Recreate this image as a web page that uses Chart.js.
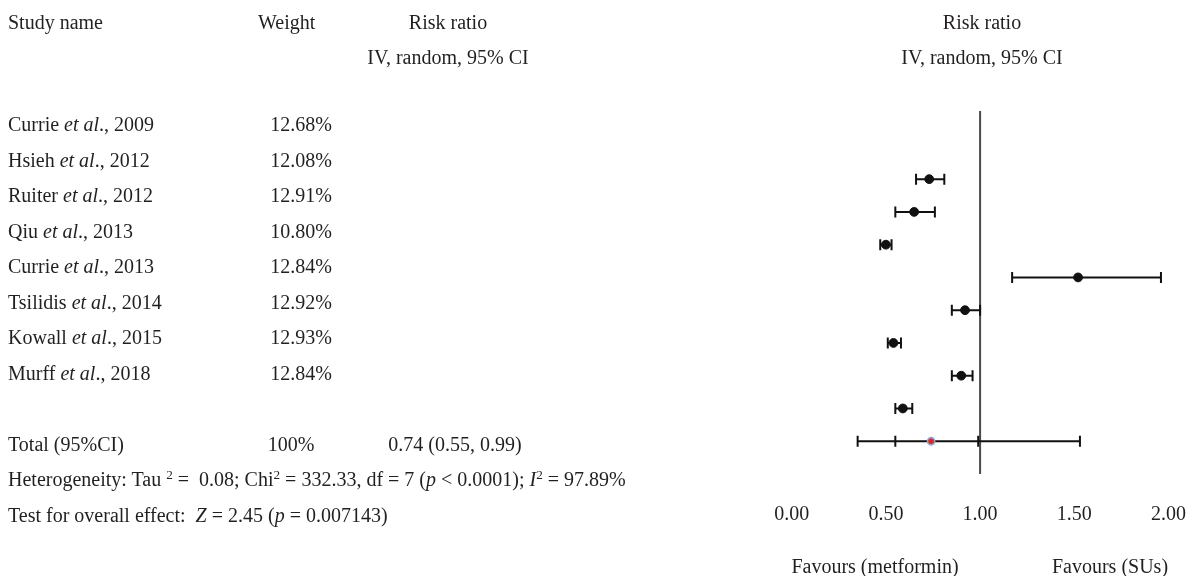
<!DOCTYPE html>
<html>
<head>
<meta charset="utf-8">
<title>Forest plot: metformin vs sulfonylureas</title>
<script src="https://cdn.jsdelivr.net/npm/chart.js@4.4.1/dist/chart.umd.min.js"></script>
<style>
  html, body { margin: 0; padding: 0; background: #ffffff; }
  body { width: 1193px; height: 576px; overflow: hidden; position: relative;
         font-family: "Liberation Serif", "DejaVu Serif", serif; color: #231f20; }
  #plot { position: absolute; left: 0; top: 0; }
  .t { position: absolute; white-space: nowrap; font-size: 20px; line-height: 1; }
  .t sup { font-size: 0.66em; line-height: 0; vertical-align: 0.55em; }
</style>
</head>
<body>
<canvas id="plot" width="1215" height="576" style="width:1215px;height:576px"></canvas>
<div id="labels"></div>
<script>
// Study-level data
const authors  = ['Currie', 'Hsieh', 'Ruiter', 'Qiu', 'Currie', 'Tsilidis', 'Kowall', 'Murff'];
const years    = [2009, 2012, 2012, 2013, 2013, 2014, 2015, 2018];
const weights  = [12.68, 12.08, 12.91, 10.80, 12.84, 12.92, 12.93, 12.84];
const riskRatio = [0.73, 0.65, 0.50, 1.52, 0.92, 0.54, 0.90, 0.59];
const ciLower   = [0.66, 0.55, 0.47, 1.17, 0.85, 0.51, 0.85, 0.55];
const ciUpper   = [0.81, 0.76, 0.53, 1.96, 1.00, 0.58, 0.96, 0.64];

// Pooled estimate (random effects)
const pooledRR = 0.74;
const pooledCI = [0.55, 0.99];
const predictionInterval = [0.35, 1.53];

// Axis
const xTicks = [0.00, 0.50, 1.00, 1.50, 2.00];
const nullValue = 1.00;

// ---- text table on the left and headings ----
const labels = document.getElementById('labels');
function place(html, x, y, align) {
  const d = document.createElement('div');
  d.className = 't';
  d.innerHTML = html;
  d.style.left = x + 'px';
  d.style.top = y + 'px';
  const tx = align === 'right' ? '-100%' : align === 'center' ? '-50%' : '0';
  d.style.transform = 'translate(' + tx + ', -50%)';
  labels.appendChild(d);
}

const colName = 8, colWeight = 332, colEffect = 448, colPlot = 982;
const rowGap = 35.5;

place('Study name', colName, 22, 'left');
place('Weight', 258, 22, 'left');
place('Risk ratio', colEffect, 22, 'center');
place('IV, random, 95% CI', colEffect, 57, 'center');
place('Risk ratio', colPlot, 22, 'center');
place('IV, random, 95% CI', colPlot, 57, 'center');

authors.forEach((a, i) => {
  const y = 124 + rowGap * i;
  place(a + ' <i>et al</i>., ' + years[i], colName, y, 'left');
  place(weights[i].toFixed(2) + '%', colWeight, y, 'right');
});

const totalY = 124 + rowGap * (authors.length + 1);
const totalWeight = weights.reduce((s, w) => s + w, 0);
place('Total (95%CI)', colName, totalY, 'left');
place(Math.round(totalWeight) + '%', 291, totalY, 'center');
place(pooledRR.toFixed(2) + ' (' + pooledCI[0].toFixed(2) + ', ' + pooledCI[1].toFixed(2) + ')', 455, totalY, 'center');
place('Heterogeneity: Tau <sup>2</sup> =&nbsp; 0.08; Chi<sup>2</sup> = 332.33, df = 7 (<i>p</i> &lt; 0.0001); <i>I</i><sup>2</sup> = 97.89%', colName, totalY + rowGap, 'left');
place('Test for overall effect:&nbsp; <i>Z</i> = 2.45 (<i>p</i> = 0.007143)', colName, totalY + rowGap * 2, 'left');

place('Favours (metformin)', 875, 566, 'center');
place('Favours (SUs)', 1110, 566, 'center');

// ---- forest plot ----
const yTop = -1.08, yBottom = 10;           // vertical extent of the plot, in row units
const ink = '#111111';

const whiskers = riskRatio.map((r, i) => ({
  type: 'scatter',
  showLine: true,
  data: [{ x: ciLower[i], y: i + 1 }, { x: ciUpper[i], y: i + 1 }],
  borderColor: ink, borderWidth: 2, pointRadius: 0, order: 5
}));
const pooledRow = authors.length + 1;
whiskers.push({
  type: 'scatter',
  showLine: true,
  data: [{ x: predictionInterval[0], y: pooledRow }, { x: predictionInterval[1], y: pooledRow }],
  borderColor: ink, borderWidth: 2, pointRadius: 0, order: 5
});

const capPoints = [];
riskRatio.forEach((r, i) => {
  capPoints.push({ x: ciLower[i], y: i + 1 }, { x: ciUpper[i], y: i + 1 });
});
[predictionInterval[0], pooledCI[0], pooledCI[1], predictionInterval[1]].forEach(v => {
  capPoints.push({ x: v, y: pooledRow });
});

const datasets = [
  {
    type: 'scatter',
    data: [{ x: pooledRR, y: pooledRow }],
    pointStyle: 'circle', pointRadius: 3.6, pointBorderWidth: 1.6,
    pointBackgroundColor: '#e3261f', pointBorderColor: '#86a9dc', order: 0
  },
  {
    type: 'scatter',
    data: riskRatio.map((r, i) => ({ x: r, y: i + 1 })),
    pointStyle: 'circle', pointRadius: 4.4, pointBorderWidth: 1,
    pointBackgroundColor: ink, pointBorderColor: ink, order: 1
  },
  {
    type: 'scatter',
    data: capPoints,
    pointStyle: 'line', pointRotation: 90, pointRadius: 5.5, pointBorderWidth: 2,
    pointBorderColor: ink, order: 2
  },
  ...whiskers,
  {
    type: 'scatter',
    showLine: true,
    data: [{ x: nullValue, y: yTop }, { x: nullValue, y: yBottom }],
    borderColor: '#4a4a4a', borderWidth: 2, pointRadius: 0, order: 10
  }
];

new Chart(document.getElementById('plot'), {
  type: 'scatter',
  data: { datasets },
  options: {
    responsive: false,
    animation: false,
    events: [],
    layout: { padding: { left: 791.7, right: 40, top: 111, bottom: 0 } },
    plugins: { legend: { display: false }, tooltip: { enabled: false } },
    scales: {
      x: {
        type: 'linear', min: xTicks[0], max: xTicks[xTicks.length - 1],
        grid: { display: false, drawTicks: false },
        border: { display: false },
        afterFit: s => { s.height = 102; },
        afterBuildTicks: s => { s.ticks = xTicks.map(v => ({ value: v })); },
        ticks: {
          padding: 29,
          color: '#231f20',
          font: { family: '"Liberation Serif", serif', size: 20 },
          callback: v => Number(v).toFixed(2)
        }
      },
      y: {
        type: 'linear', min: yTop, max: yBottom, reverse: true, display: false
      }
    }
  }
});
</script>
</body>
</html>
